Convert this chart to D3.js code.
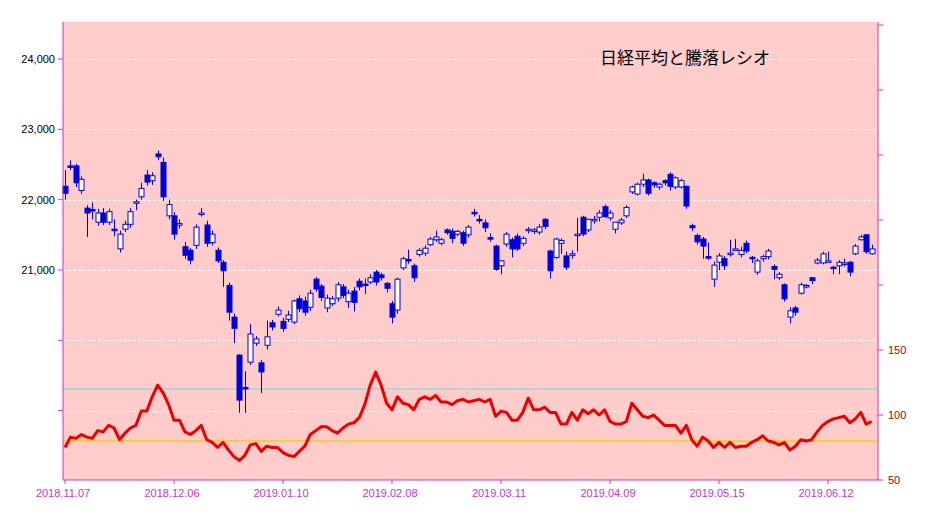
<!DOCTYPE html>
<html><head><meta charset="utf-8">
<script src="https://cdn.jsdelivr.net/npm/d3@7"></script>
<style>body{margin:0;background:#fff}svg{display:block}</style></head>
<body><svg id="c" width="928" height="522"></svg>
<script>
const title = "日経平均と騰落レシオ";
const dateLabels = ["2018.11.07","2018.12.06","2019.01.10","2019.02.08","2019.03.11","2019.04.09","2019.05.15","2019.06.12"];
const dateLabelIdx = [0,20,40,60,80,100,120,140];
const priceTicks = [21000,22000,23000,24000];
const ratioTicks = [50,100,150];
const refLines = [120,80];
const opens = [22190,22480,22480,22130,21880,21860,21680,21810,21680,21580,21300,21580,21650,21960,22040,22350,22270,22650,22530,21770,21770,21640,21330,21280,21350,
21790,21640,21390,21280,21110,20780,20330,19790,19330,19690,19960,19680,19930,20250,20370,20270,20300,20260,20590,20560,20470,20870,20770,20460,20520,
20600,20760,20550,20700,20840,20800,20830,20970,20930,20810,20520,20430,21030,21150,21060,21220,21240,21360,21430,21380,21570,21550,21510,21530,21500,
21820,21720,21670,21460,21340,21060,21370,21430,21480,21380,21570,21560,21540,21720,21270,21180,21380,21200,21220,21500,21750,21570,21710,21750,21900,
21740,21580,21670,21770,22110,22080,22220,22280,22240,22180,22270,22360,22180,22180,22190,21630,21490,21440,21190,20870,21110,21160,21230,21290,
21220,21380,21180,20970,21160,21190,21050,20890,20790,20330,20460,20670,20760,20890,21100,21100,21120,21040,21060,21090,21110,21230,21430,21500,21230];
const closes = [22090,22460,22240,22290,21810,21840,21810,21680,21830,21560,21510,21650,21830,21970,22160,22250,22340,22610,22040,21930,21510,21660,21210,21140,21610,
21810,21380,21510,21130,20990,20400,20170,19150,19320,20090,20020,19550,20050,20190,20430,20170,20360,20560,20450,20400,20670,20730,20610,20600,20590,
20790,20640,20670,20540,20760,20790,20890,20830,20890,20740,20330,20870,21160,21140,20890,21280,21310,21440,21470,21430,21530,21450,21550,21380,21610,
21810,21710,21600,21450,21010,21130,21510,21300,21300,21450,21580,21570,21610,21620,20990,21440,21420,21040,21230,21510,21510,21720,21720,21810,21760,
21810,21680,21710,21890,22180,22220,22280,22090,22210,22220,22240,22190,22310,22270,21910,21600,21400,21340,21180,21070,21200,21060,21240,21300,
21280,21270,21160,21130,21190,21270,21010,20940,20590,20420,20400,20790,20780,20850,21140,21230,21130,21030,21110,21100,20970,21340,21470,21260,21300];
const highs = [22420,22560,22510,22330,21920,21960,21870,21880,21870,21720,21560,21700,21880,22000,22240,22420,22390,22700,22600,22000,21820,21720,21400,21310,21650,
21880,21700,21560,21320,21140,20820,20380,19800,19560,20230,20060,19720,20280,20290,20480,20320,20420,20580,20640,20620,20720,20900,20800,20650,20630,
20830,20800,20720,20760,20880,20880,20940,21000,20960,20830,20560,20890,21190,21290,21090,21310,21350,21470,21560,21460,21590,21590,21570,21560,21640,
21870,21780,21720,21520,21360,21140,21540,21460,21520,21480,21610,21600,21650,21740,21290,21460,21450,21260,21280,21740,21770,21730,21770,21850,21930,
21850,21610,21740,21920,22200,22240,22370,22300,22260,22240,22290,22390,22330,22300,22200,21660,21520,21470,21390,21120,21240,21200,21430,21440,
21330,21420,21200,21160,21220,21300,21080,20970,20810,20470,20490,20820,20800,20900,21170,21260,21260,21060,21140,21160,21130,21370,21500,21510,21360];
const lows = [22000,22420,22180,22080,21470,21720,21630,21640,21640,21480,21250,21540,21600,21850,22000,22200,22210,22560,21980,21720,21430,21590,21160,21080,21300,
21760,21330,21350,21100,20760,20280,19960,18970,18970,19650,19920,19250,19870,20140,20340,20120,20260,20230,20400,20350,20420,20690,20560,20400,20490,
20550,20600,20460,20410,20710,20660,20800,20780,20850,20680,20240,20380,21000,21090,20830,21190,21200,21340,21400,21350,21500,21380,21480,21340,21460,
21760,21660,21540,21400,20990,20940,21330,21180,21270,21340,21520,21510,21500,21580,20880,21160,21230,21000,21160,21260,21480,21540,21660,21690,21740,
21700,21520,21640,21740,22080,22060,22180,22060,22170,22140,22200,22130,22150,22160,21870,21550,21360,21160,21140,20760,21000,21000,21190,21270,
21180,21240,21100,20930,21120,21150,20870,20860,20550,20240,20350,20650,20740,20800,21080,21080,21130,20940,20940,21050,20910,21210,21420,21230,21220];
const ratio = [75,83,82,85,83,82,88,87,92,90,81,86,90,92,103,103,114,123,117,108,96,96,87,85,88,
92,81,79,75,79,73,68,65,69,77,78,72,76,75,75,71,69,68,72,76,85,88,91,91,88,
86,90,93,94,98,108,123,133,123,109,104,114,109,108,104,112,114,112,115,110,110,108,111,112,110,
111,112,110,112,99,103,102,96,96,102,113,104,104,106,102,102,93,93,102,96,104,101,104,100,104,
95,93,93,95,109,104,99,98,100,96,92,92,92,86,92,81,76,83,80,75,79,75,79,75,
76,76,79,81,84,80,79,77,79,73,76,81,80,81,87,92,95,97,98,99,94,97,102,93,95];

const svg = d3.select("#c");
const L=63,R=878,T=22,B=480;
const n = opens.length;
svg.append("rect").attr("x",L).attr("y",T).attr("width",R-L).attr("height",B-T).attr("fill","#FFCCCC");
const x = d3.scaleLinear().domain([0,148]).range([65,871.6]);
const yP = d3.scaleLinear().domain([21000,24000]).range([270,59]);
const yR = d3.scaleLinear().domain([50,150]).range([480,350]);
const gridVals = d3.range(18000,24001,1000).map(v=>yP(v)).filter(v=>v>T+5&&v<B-5);
svg.selectAll(".g").data(gridVals).enter().append("line").attr("x1",L).attr("x2",R)
 .attr("y1",d=>Math.round(d)+0.5).attr("y2",d=>Math.round(d)+0.5).attr("stroke","#fff").attr("stroke-dasharray","3,2").attr("stroke-width",1);
svg.append("line").attr("x1",L).attr("x2",R).attr("y1",yR(refLines[0])).attr("y2",yR(refLines[0])).attr("stroke","#66DDDD").attr("stroke-width",1);
svg.append("line").attr("x1",L).attr("x2",R).attr("y1",yR(refLines[1])).attr("y2",yR(refLines[1])).attr("stroke","#FFCC00").attr("stroke-width",1.5);
const g = svg.append("g");
d3.range(n).forEach(i=>{
  const cx = Math.round(x(i))+0.5;
  g.append("line").attr("x1",cx).attr("x2",cx).attr("y1",yP(highs[i])).attr("y2",yP(lows[i])).attr("stroke","#0000DD").attr("stroke-width",1);
  const up = closes[i]>=opens[i];
  const top = yP(Math.max(opens[i],closes[i])), bot = yP(Math.min(opens[i],closes[i]));
  g.append("rect").attr("x",cx-2.5).attr("y",top).attr("width",5).attr("height",Math.max(1.5,bot-top))
   .attr("fill",up?"#fff":"#0000DD").attr("stroke","#0000DD").attr("stroke-width",1);
});
svg.append("path").datum(ratio).attr("fill","none").attr("stroke","#EE0000").attr("stroke-width",3).attr("stroke-linejoin","round")
 .attr("d",d3.line().x((d,i)=>x(i)).y(d=>yR(d)));
svg.append("line").attr("x1",L).attr("x2",L).attr("y1",T).attr("y2",B).attr("stroke","#CC33CC");
svg.append("line").attr("x1",R).attr("x2",R).attr("y1",T).attr("y2",B).attr("stroke","#CC33CC");
svg.append("line").attr("x1",L).attr("x2",R).attr("y1",B).attr("y2",B).attr("stroke","#CC33CC");
const leftTickYs = d3.range(18000,24001,1000).map(v=>yP(v)).filter(v=>v>T&&v<B);
svg.selectAll(".lt").data(leftTickYs).enter().append("line").attr("x1",L-5).attr("x2",L).attr("y1",d=>d).attr("y2",d=>d).attr("stroke","#CC33CC");
svg.selectAll(".ll").data(priceTicks).enter().append("text").attr("x",L-8).attr("y",d=>yP(d)+4)
 .attr("text-anchor","end").attr("font-family","Liberation Sans, Arial").attr("font-size",11).attr("fill","#000")
 .text(d=>d3.format(",")(d));
const rightTickYs = d3.range(50,401,50).map(v=>yR(v)).filter(v=>v>T&&v<=B);
svg.selectAll(".rt").data(rightTickYs).enter().append("line").attr("x1",R).attr("x2",R+5).attr("y1",d=>d).attr("y2",d=>d).attr("stroke","#CC33CC");
svg.selectAll(".rl").data(ratioTicks).enter().append("text").attr("x",R+10).attr("y",d=>yR(d)+4)
 .attr("font-family","Liberation Sans, Arial").attr("font-size",11).attr("fill","#AA0000").text(d=>d);
svg.selectAll(".bt").data(dateLabelIdx).enter().append("line").attr("x1",d=>x(d)).attr("x2",d=>x(d)).attr("y1",B).attr("y2",B+4).attr("stroke","#CC33CC");
svg.selectAll(".bl").data(dateLabels).enter().append("text").attr("x",(d,i)=>x(dateLabelIdx[i])-2).attr("y",B+17)
 .attr("text-anchor","middle").attr("font-family","Liberation Sans, Arial").attr("font-size",11).attr("fill","#CC33CC").text(d=>d);
svg.append("text").attr("x",600).attr("y",64).attr("font-family","Noto Sans CJK JP").attr("font-size",17).attr("fill","#000").text(title);
</script></body></html>
